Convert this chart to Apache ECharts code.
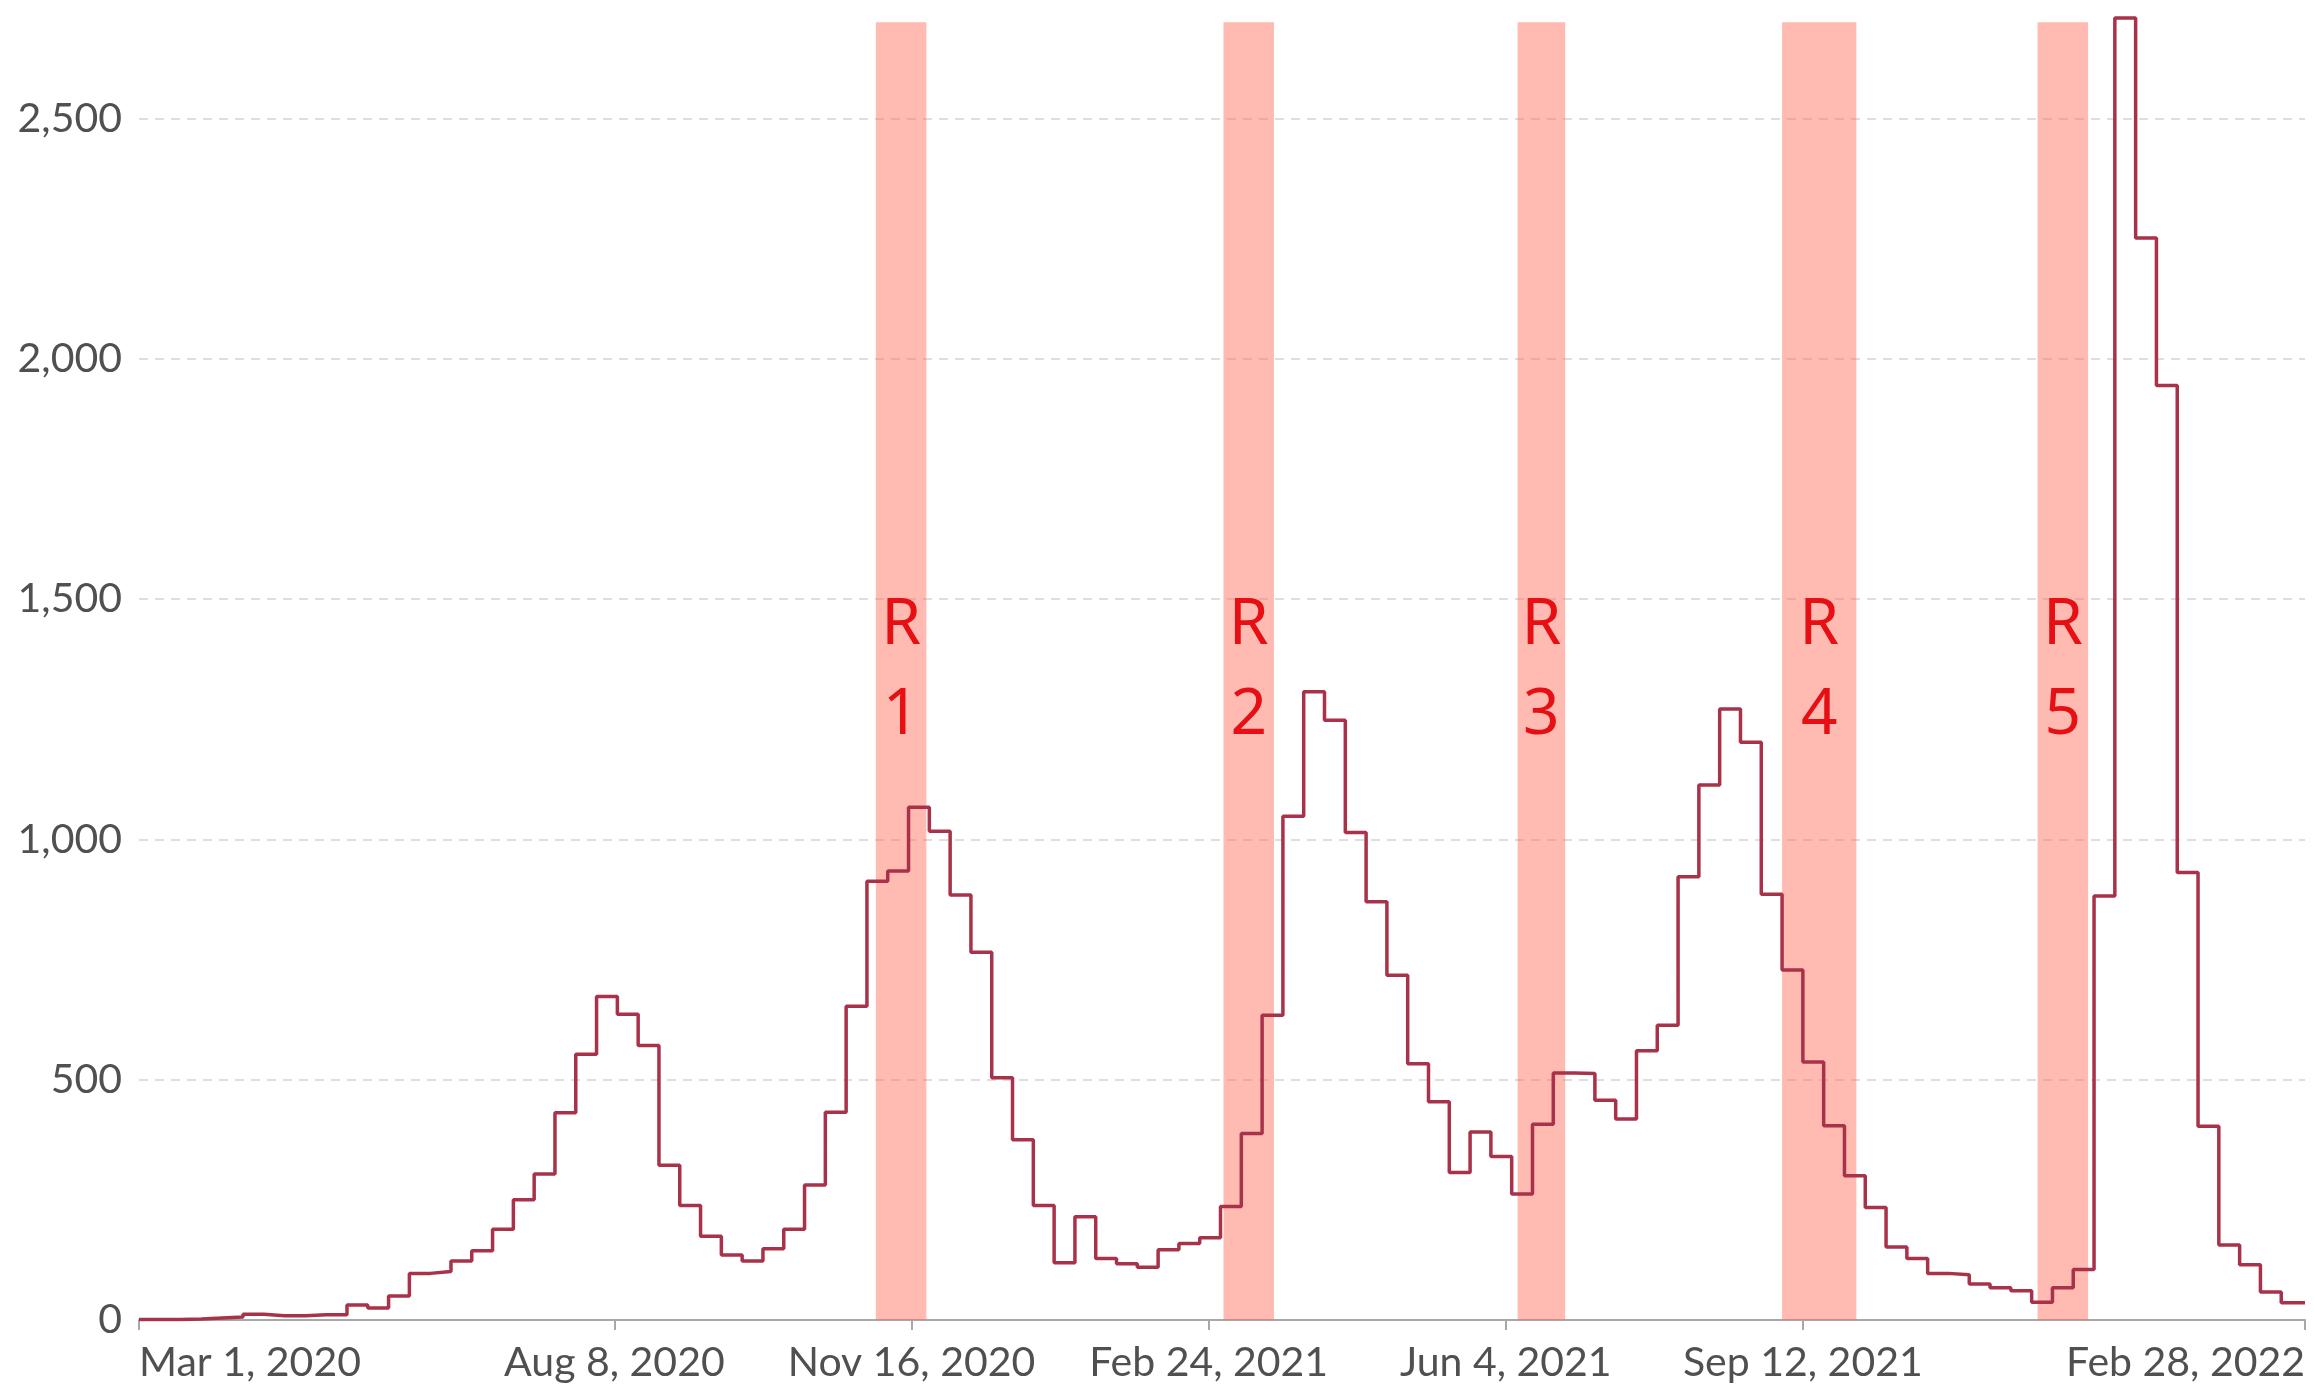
<!DOCTYPE html>
<html>
<head>
<meta charset="utf-8">
<title>Weekly chart</title>
<script src="https://cdn.jsdelivr.net/npm/echarts@6.0.0/dist/echarts.min.js"></script>
<style>
  html, body { margin: 0; padding: 0; background: #fff; }
  #chart { width: 2315px; height: 1389px; }
</style>
</head>
<body>
<div id="chart"></div>
<script>
  // weekly values, first week starts Mar 1, 2020
  const startDate = '2020-03-01';
  const endDate = '2022-02-28';
  const weeklyValues = [
    1, 1, 2, 4, 6, 12, 9, 9, 11, 11,
    31, 25, 50, 97, 101, 123, 144, 189, 250, 304,
    431, 553, 673, 636, 571, 322, 238, 174, 135, 123,
    148, 189, 281, 432, 653, 913, 934, 1067, 1017, 884,
    765, 504, 375, 238, 119, 215, 128, 117, 110, 146,
    159, 171, 236, 388, 634, 1048, 1307, 1248, 1014, 870,
    717, 533, 454, 307, 391, 340, 262, 407, 514, 513,
    457, 418, 560, 613, 922, 1113, 1271, 1202, 886, 728,
    537, 404, 300, 234, 152, 128, 97, 94, 75, 67,
    61, 37, 67, 105, 882, 2709, 2251, 1944, 931, 403,
    156, 115, 58, 36
  ];

  // x axis label dates
  const tickDates = ['2020-03-01', '2020-08-08', '2020-11-16', '2021-02-24', '2021-06-04', '2021-09-12', '2022-02-28'];
  const yTicks = [0, 500, 1000, 1500, 2000, 2500];

  // shaded periods
  const bandStart = ['2020-11-04', '2021-03-01', '2021-06-08', '2021-09-05', '2021-11-30'];
  const bandEnd = ['2020-11-21', '2021-03-18', '2021-06-24', '2021-09-30', '2021-12-17'];
  const bandLabels = ['R\n1', 'R\n2', 'R\n3', 'R\n4', 'R\n5'];
  const bandTop = 2700;

  const months = ['Jan', 'Feb', 'Mar', 'Apr', 'May', 'Jun', 'Jul', 'Aug', 'Sep', 'Oct', 'Nov', 'Dec'];
  const DAY = 24 * 3600 * 1000;
  const toTime = (s) => Date.parse(s + 'T00:00:00Z');

  const fmtDate = (v) => {
    const d = new Date(v);
    return months[d.getUTCMonth()] + ' ' + d.getUTCDate() + ', ' + d.getUTCFullYear();
  };

  const buildLine = () => {
    const t0 = toTime(startDate);
    const pts = weeklyValues.map((v, i) => [t0 + i * 7 * DAY, v]);
    // hold the last week until the end of the axis
    pts.push([toTime(endDate), weeklyValues[weeklyValues.length - 1]]);
    return pts;
  };

  const getOption = () => {
    const tickTimes = tickDates.map(toTime);
    return {
      animation: false,
      grid: {
        left: 139,
        right: 10,
        top: 3,
        bottom: 69,
      },
      xAxis: {
        // timestamps on a value axis so the irregular label dates can be set
        type: 'value',
        min: toTime(startDate),
        max: toTime(endDate),
        axisLine: {
          show: true,
          lineStyle: { color: '#a8a8a8', width: 2 },
        },
        axisTick: {
          show: true,
          length: 10,
          customValues: tickTimes,
          lineStyle: { color: '#a8a8a8', width: 2 },
        },
        axisLabel: {
          customValues: tickTimes,
          formatter: (v) => fmtDate(v),
          color: '#505050',
          fontFamily: 'Lato',
          fontSize: 41,
          margin: 22,
          alignMinLabel: 'left',
          alignMaxLabel: 'right',
        },
        splitLine: { show: false },
      },
      yAxis: {
        type: 'value',
        min: 0,
        max: 2740,
        interval: 500,
        axisLine: { show: false },
        axisTick: { show: false },
        axisLabel: {
          color: '#505050',
          fontFamily: 'Lato',
          fontSize: 41,
          margin: 17,
          showMaxLabel: false,
          formatter: (v) => (yTicks.includes(v) ? v.toLocaleString('en-US') : ''),
        },
        splitLine: {
          show: true,
          showMinLine: false,
          showMaxLine: false,
          lineStyle: { color: '#d4d4d4', width: 1.5, type: [9, 7] },
        },
      },
      series: [
        {
          // shaded R periods
          type: 'line',
          data: [],
          z: 1,
          silent: true,
          markArea: {
            silent: true,
            itemStyle: { color: 'rgba(255,110,95,0.48)' },
            label: {
              show: true,
              position: 'inside',
              color: '#e60f14',
              fontFamily: 'Noto Sans',
              fontSize: 64,
              lineHeight: 90,
            },
            data: bandStart.map((s, i) => [
              { xAxis: toTime(s), yAxis: 0, name: bandLabels[i] },
              { xAxis: toTime(bandEnd[i]), yAxis: bandTop },
            ]),
          },
        },
        {
          type: 'line',
          step: 'end',
          z: 3,
          showSymbol: false,
          data: buildLine(),
          lineStyle: { color: '#a8324a', width: 3.5 },
        },
      ],
    };
  };

  const myChart = echarts.init(document.getElementById('chart'));
  myChart.setOption(getOption());
  window.addEventListener('resize', () => myChart.resize());
</script>
</body>
</html>
